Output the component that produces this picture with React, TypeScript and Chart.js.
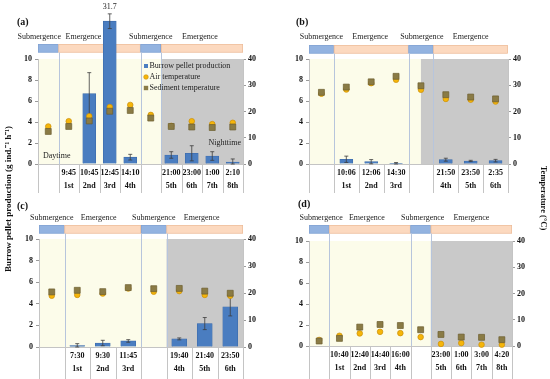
import React, { useEffect, useRef } from 'react';
import { Chart, registerables } from 'chart.js';

Chart.register(...registerables);

// ---------------- DATA ----------------
// Panel (a)
const timesA = ['', '9:45', '10:45', '12:45', '14:10', '', '21:00', '23:00', '1:00', '2:10'];
const ordsA = ['', '1st', '2nd', '3rd', '4th', '', '5th', '6th', '7th', '8th'];
const pelletA = [null, null, 6.7, 31.7, 0.65, null, 0.86, 1.02, 0.76, 0.19];
const pelletErrA = [null, null, 2.0, 0.7, 0.27, null, 0.31, 0.72, 0.41, 0.29];
const airA = [14.3, 16.3, 18.2, 21.7, 22.5, 18.7, 14.5, 16.3, 15.2, 15.7];
const sedA = [12.4, 14.3, 16.4, 20.1, 20.4, 17.5, 14.3, 14.1, 13.9, 14.1];

// Panel (b)
const timesB = ['', '10:06', '12:06', '14:30', '', '21:50', '23:50', '2:35'];
const ordsB = ['', '1st', '2nd', '3rd', '', '4th', '5th', '6th'];
const pelletB = [null, 0.45, 0.22, 0.06, null, 0.41, 0.29, 0.32];
const pelletErrB = [null, 0.3, 0.2, 0.08, null, 0.14, 0.06, 0.12];
const airB = [26.8, 28.4, 30.8, 32.1, 28.3, 24.8, 24.5, 23.8];
const sedB = [27.3, 29.3, 31.3, 33.4, 29.8, 26.4, 25.5, 24.8];

// Panel (c)
const timesC = ['', '7:30', '9:30', '11:45', '', '19:40', '21:40', '23:50'];
const ordsC = ['', '1st', '2nd', '3rd', '', '4th', '5th', '6th'];
const pelletC = [null, 0.12, 0.37, 0.56, null, 0.75, 2.17, 3.73];
const pelletErrC = [null, 0.19, 0.25, 0.12, null, 0.09, 0.56, 0.85];
const airC = [19.0, 19.3, 19.8, 21.7, 20.5, 20.7, 19.3, 19.0];
const sedC = [20.4, 21.0, 20.5, 22.0, 21.6, 21.7, 20.7, 19.9];

// Panel (d)
const timesD = ['', '10:40', '12:40', '14:40', '16:00', '', '23:00', '1:00', '3:00', '4:20'];
const ordsD = ['', '1st', '2nd', '3rd', '4th', '', '5th', '6th', '7th', '8th'];
const pelletD = [null, null, null, null, null, null, null, null, null, null];
const pelletErrD = [null, null, null, null, null, null, null, null, null, null];
const airD = [2.3, 3.9, 4.8, 5.4, 4.9, 3.4, 0.8, 1.1, 0.5, 0.5];
const sedD = [1.9, 2.9, 7.2, 8.2, 7.8, 6.2, 4.4, 3.4, 3.3, 2.4];

// Tide phases (category ranges) and start of nighttime (category position)
const phasesAD: [string, number, number][] = [['Submergence', -0.5, 0.5], ['Emergence', 0.5, 4.5], ['Submergence', 4.5, 5.5], ['Emergence', 5.5, 9.5]];
const phasesBC: [string, number, number][] = [['Submergence', -0.5, 0.5], ['Emergence', 0.5, 3.5], ['Submergence', 3.5, 4.5], ['Emergence', 4.5, 7.5]];
const nightA = 5.5, nightB = 4.0, nightC = 4.5, nightD = 5.5;

const leftTicks = [0, 2, 4, 6, 8, 10];
const rightTicks = [0, 10, 20, 30, 40];
const seriesNames = ['Burrow pellet production', 'Air temperature', 'Sediment temperature'];

// ---------------- STYLE ----------------
const SERIF = '"Liberation Serif", "Times New Roman", serif';
const W = 550, H = 379;
const BAR_BLUE = '#4a7dc0';
const BAR_EDGE = '#3a69a8';
const AIR_FILL = '#f6b60a';
const AIR_EDGE = '#c98e0c';
const SED_FILL = '#8a7b45';
const SED_EDGE = '#6b5d2e';
const YELLOW_BG = '#fcfcea';
const GRAY_BG = '#c9c9c9';
const SUB_COL = '#93b3e0';
const SUB_EDGE = '#7f9fcf';
const EMER_COL = '#fcd9bf';
const EMER_EDGE = '#eab894';
const LINE_COL = '#b7c5dc';
const TABLE_COL = '#c4c4c4';
const BROKEN_AT = 13.6; // display height of broken bar (axis max 10)

type PanelCfg = {
  key: string; letter: string; times: string[]; ords: string[];
  pellet: (number | null)[]; err: (number | null)[]; air: number[]; sed: number[];
  phases: [string, number, number][]; night: number;
  area: { L: number; R: number; T: number; B: number };
  letterPos: [number, number]; phaseY: number; barTop: number; barThick: number;
  tableLen: number; labelShift: number[]; legend?: boolean; daynight?: boolean;
};

const panels: PanelCfg[] = [
  { key: 'a', letter: '(a)', times: timesA, ords: ordsA, pellet: pelletA, err: pelletErrA, air: airA, sed: sedA,
    phases: phasesAD, night: nightA, area: { L: 38, R: 243, T: 59, B: 164 }, letterPos: [17, 22], phaseY: 37,
    barTop: 44, barThick: 13, tableLen: 29, labelShift: [-9, -16, 0, -2], legend: true, daynight: true },
  { key: 'b', letter: '(b)', times: timesB, ords: ordsB, pellet: pelletB, err: pelletErrB, air: airB, sed: sedB,
    phases: phasesBC, night: nightB, area: { L: 309, R: 508, T: 59, B: 164 }, letterPos: [296, 22], phaseY: 37,
    barTop: 45, barThick: 13, tableLen: 29, labelShift: [0, -1, 1, 0] },
  { key: 'c', letter: '(c)', times: timesC, ords: ordsC, pellet: pelletC, err: pelletErrC, air: airC, sed: sedC,
    phases: phasesBC, night: nightC, area: { L: 39, R: 243, T: 239, B: 347 }, letterPos: [17, 206], phaseY: 218,
    barTop: 225, barThick: 15, tableLen: 32, labelShift: [0, -4, 0, -3] },
  { key: 'd', letter: '(d)', times: timesD, ords: ordsD, pellet: pelletD, err: pelletErrD, air: airD, sed: sedD,
    phases: phasesAD, night: nightD, area: { L: 309, R: 512, T: 241, B: 346 }, letterPos: [298, 204], phaseY: 218,
    barTop: 225, barThick: 13, tableLen: 33, labelShift: [2, -3, 2, 0] },
];

function makePlugin(p: PanelCfg, drawTitles: boolean) {
  return {
    id: 'panelDecor' + p.key,
    beforeDraw(chart: any) {
      const ctx = chart.ctx;
      const ca = chart.chartArea;
      const xs = chart.scales.x;
      const n = p.times.length;
      ctx.save();
      // backgrounds
      const nx = xs.getPixelForValue(p.night);
      ctx.fillStyle = YELLOW_BG;
      ctx.fillRect(ca.left, ca.top, nx - ca.left, ca.bottom - ca.top);
      ctx.fillStyle = GRAY_BG;
      ctx.fillRect(nx, ca.top, ca.right - nx, ca.bottom - ca.top);
      // phase bar
      for (const [name, a, b] of p.phases) {
        const x0 = xs.getPixelForValue(a);
        const x1 = xs.getPixelForValue(b);
        ctx.fillStyle = name === 'Submergence' ? SUB_COL : EMER_COL;
        ctx.fillRect(x0, p.barTop, x1 - x0, 8.5);
        ctx.strokeStyle = name === 'Submergence' ? SUB_EDGE : EMER_EDGE;
        ctx.lineWidth = 0.6;
        ctx.strokeRect(x0 + 0.3, p.barTop + 0.3, x1 - x0 - 0.6, 7.9);
      }
      // phase boundary lines
      ctx.strokeStyle = LINE_COL;
      ctx.lineWidth = 1;
      for (let i = 1; i < p.phases.length; i++) {
        const x = Math.round(xs.getPixelForValue(p.phases[i][1])) + 0.5;
        ctx.beginPath();
        ctx.moveTo(x, p.barTop + 8.5);
        ctx.lineTo(x, ca.bottom);
        ctx.stroke();
      }
      // table lines
      ctx.strokeStyle = TABLE_COL;
      for (let i = 0; i <= n; i++) {
        const x = Math.round(xs.getPixelForValue(i - 0.5)) + 0.5;
        ctx.beginPath();
        ctx.moveTo(x, ca.bottom);
        ctx.lineTo(x, ca.bottom + p.tableLen);
        ctx.stroke();
      }
      ctx.restore();
    },
    afterDatasetDraw(chart: any, args: any) {
      if (args.index !== 0) return;
      const ctx = chart.ctx;
      const xs = chart.scales.x;
      const ys = chart.scales.y;
      ctx.save();
      ctx.strokeStyle = '#3c3c3c';
      ctx.lineWidth = 0.8;
      p.pellet.forEach((v, i) => {
        const e = p.err[i];
        if (v == null || e == null) return;
        const dv = v > 10 ? BROKEN_AT : v;
        const x = xs.getPixelForValue(i);
        const yt = ys.getPixelForValue(dv + e);
        const yb = ys.getPixelForValue(Math.max(0, dv - e));
        ctx.beginPath();
        ctx.moveTo(x, yt); ctx.lineTo(x, yb);
        ctx.moveTo(x - 2, yt); ctx.lineTo(x + 2, yt);
        ctx.moveTo(x - 2, yb); ctx.lineTo(x + 2, yb);
        ctx.stroke();
        if (v > 10) {
          ctx.fillStyle = '#222';
          ctx.font = `8px ${SERIF}`;
          ctx.textAlign = 'center';
          ctx.textBaseline = 'middle';
          ctx.fillText(String(v), x, yt - 7);
        }
      });
      ctx.restore();
    },
    afterDraw(chart: any) {
      const ctx = chart.ctx;
      const ca = chart.chartArea;
      const xs = chart.scales.x;
      ctx.save();
      ctx.fillStyle = '#111';
      ctx.textBaseline = 'middle';
      // panel letter
      ctx.font = `bold 10px ${SERIF}`;
      ctx.textAlign = 'left';
      ctx.fillText(p.letter, p.letterPos[0], p.letterPos[1]);
      // phase labels
      ctx.font = `8px ${SERIF}`;
      ctx.textAlign = 'center';
      ctx.fillStyle = '#222';
      p.phases.forEach(([name, a, b], i) => {
        const cx = (xs.getPixelForValue(a) + xs.getPixelForValue(b)) / 2 + (p.labelShift[i] || 0);
        ctx.fillText(name, cx, p.phaseY);
      });
      if (p.daynight) {
        ctx.textAlign = 'left';
        ctx.fillText('Daytime', ca.left + 5, ca.bottom - 8);
        ctx.textAlign = 'right';
        ctx.fillText('Nighttime', ca.right - 2, ca.bottom - 21);
      }
      if (p.legend) {
        const lx = ca.left + 108;
        const ly = ca.top + 7;
        ctx.textAlign = 'left';
        ctx.font = `8px ${SERIF}`;
        seriesNames.forEach((name, i) => {
          const y = ly + i * 11;
          if (i === 0) {
            ctx.fillStyle = BAR_BLUE;
            ctx.fillRect(lx - 2, y - 2, 4, 4);
          } else if (i === 1) {
            ctx.fillStyle = AIR_FILL;
            ctx.strokeStyle = AIR_EDGE;
            ctx.lineWidth = 0.6;
            ctx.beginPath();
            ctx.arc(lx, y, 2.3, 0, Math.PI * 2);
            ctx.fill(); ctx.stroke();
          } else {
            ctx.fillStyle = SED_FILL;
            ctx.fillRect(lx - 2.2, y - 2.2, 4.4, 4.4);
          }
          ctx.fillStyle = '#222';
          ctx.fillText(name, lx + 3.5, y);
        });
      }
      if (drawTitles) {
        ctx.fillStyle = '#111';
        ctx.font = `bold 9px ${SERIF}`;
        ctx.textAlign = 'center';
        ctx.save();
        ctx.translate(9, 199);
        ctx.rotate(-Math.PI / 2);
        ctx.fillText('Burrow pellet production (g ind.\u207B\u00B9 h\u207B\u00B9)', 0, 0);
        ctx.restore();
        ctx.save();
        ctx.font = `bold 8.5px ${SERIF}`;
        ctx.translate(543, 198);
        ctx.rotate(Math.PI / 2);
        ctx.fillText('Temperature (\u00B0C)', 0, 0);
        ctx.restore();
      }
      ctx.restore();
    },
  };
}

const LEFT_W = 30, RIGHT_W = 28, XAX_H = 30;

function buildConfig(p: PanelCfg, drawTitles: boolean): any {
  const labels = p.times.map((t, i) => [t, p.ords[i]]);
  const tickFont = { family: SERIF, size: 8, weight: 'bold' as const };
  return {
    type: 'bar',
    data: {
      labels,
      datasets: [
        {
          type: 'bar', label: seriesNames[0],
          data: p.pellet.map((v) => (v == null ? null : v > 10 ? BROKEN_AT : v)),
          backgroundColor: BAR_BLUE, borderColor: BAR_EDGE, borderWidth: 0.6,
          barThickness: p.barThick, yAxisID: 'y', clip: false, order: 2,
        },
        {
          type: 'line', label: seriesNames[1], data: p.air, yAxisID: 'y1', showLine: false,
          pointStyle: 'circle', pointRadius: 2.8, backgroundColor: AIR_FILL, borderColor: AIR_EDGE,
          pointBorderWidth: 0.7, order: 1, clip: false,
        },
        {
          type: 'line', label: seriesNames[2], data: p.sed, yAxisID: 'y1', showLine: false,
          pointStyle: 'rect', pointRadius: 4.2, backgroundColor: SED_FILL, borderColor: SED_EDGE,
          pointBorderWidth: 0.7, order: 0, clip: false,
        },
      ],
    },
    options: {
      responsive: false,
      animation: false,
      events: [],
      layout: {
        padding: {
          left: p.area.L - LEFT_W,
          right: W - p.area.R - RIGHT_W,
          top: p.area.T,
          bottom: H - p.area.B - XAX_H,
        },
      },
      plugins: { legend: { display: false }, tooltip: { enabled: false }, title: { display: false } },
      scales: {
        x: {
          type: 'category', offset: true,
          grid: { display: true, drawOnChartArea: false, drawTicks: false },
          border: { display: true, color: TABLE_COL },
          ticks: { font: { ...tickFont, lineHeight: 1.7 }, color: '#111', padding: 2, autoSkip: false, maxRotation: 0 },
          afterFit: (s: any) => { s.height = XAX_H; },
        },
        y: {
          position: 'left', min: 0, max: 10,
          afterBuildTicks: (s: any) => { s.ticks = leftTicks.map((v) => ({ value: v })); },
          grid: { drawOnChartArea: false, drawTicks: true, tickLength: 3, color: '#9a9a9a' },
          border: { display: true, color: TABLE_COL },
          ticks: { font: tickFont, color: '#111', padding: 3 },
          afterFit: (s: any) => { s.width = LEFT_W; },
        },
        y1: {
          position: 'right', min: 0, max: 40,
          afterBuildTicks: (s: any) => { s.ticks = rightTicks.map((v) => ({ value: v })); },
          grid: { drawOnChartArea: false, drawTicks: true, tickLength: 3, color: '#9a9a9a' },
          border: { display: true, color: TABLE_COL },
          ticks: { font: tickFont, color: '#111', padding: 2 },
          afterFit: (s: any) => { s.width = RIGHT_W; },
        },
      },
    },
    plugins: [makePlugin(p, drawTitles)],
  };
}

function PanelCanvas({ p, titles }: { p: PanelCfg; titles: boolean }) {
  const ref = useRef<HTMLCanvasElement | null>(null);
  useEffect(() => {
    if (!ref.current) return;
    const chart = new Chart(ref.current, buildConfig(p, titles));
    return () => chart.destroy();
  }, [p, titles]);
  return (
    <canvas
      ref={ref}
      width={W}
      height={H}
      style={{ position: 'absolute', left: 0, top: 0, width: W, height: H }}
    />
  );
}

export default function App() {
  return (
    <div style={{ position: 'fixed', left: 0, top: 0, width: W, height: H, background: '#fff', overflow: 'hidden' }}>
      {panels.map((p, i) => (
        <PanelCanvas key={p.key} p={p} titles={i === 0} />
      ))}
    </div>
  );
}
